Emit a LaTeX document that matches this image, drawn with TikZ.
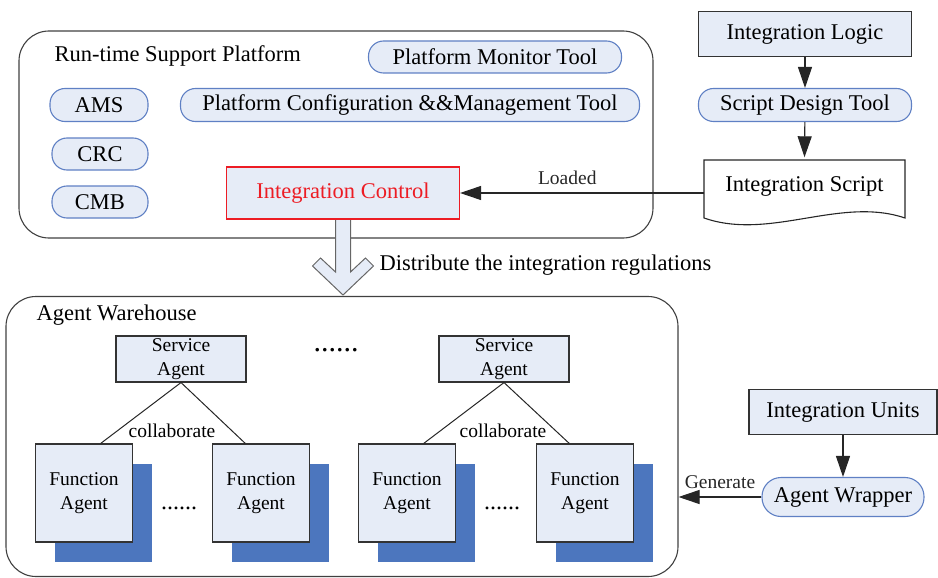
\documentclass[tikz,border=0pt]{standalone}
\usepackage{fontspec}
\setmainfont{Liberation Serif}
\usetikzlibrary{arrows.meta,shadows,calc}
\definecolor{boxfill}{RGB}{230,236,247}
\definecolor{pillline}{RGB}{95,128,196}
\definecolor{ctrlred}{RGB}{237,28,36}
\definecolor{agentshade}{RGB}{76,118,190}
\begin{document}
\begin{tikzpicture}[x=1pt,y=-1pt,
    big/.style={font=\fontsize{22.5}{24}\selectfont},
    small/.style={font=\fontsize{19.5}{24}\selectfont},
    frame/.style={draw=black!75,line width=1.1pt,rounded corners=30pt,inner sep=0pt},
    pill/.style={big,draw=pillline,fill=boxfill,line width=1.1pt,rounded corners=15pt,inner sep=0pt},
    box/.style={big,draw=black!80,fill=boxfill,line width=1.1pt,inner sep=0pt},
    service/.style={small,draw=black!80,fill=boxfill,line width=1.1pt,inner sep=0pt,align=center,minimum width=130pt,minimum height=46pt},
    agent/.style={small,draw=black!80,fill=boxfill,line width=1.1pt,inner sep=0pt,align=center,minimum width=97pt,minimum height=98pt,
        drop shadow={shadow xshift=19pt,shadow yshift=-20pt,fill=agentshade,opacity=1}},
    link/.style={line width=1pt,black!85},
    arr/.style={line width=1.1pt,black!85,-{Triangle[length=21pt,width=14pt]}}]
    \useasboundingbox (0,0) rectangle (938,578);
    \node[frame,minimum width=634pt,minimum height=207pt] (platform) at (336,134.5) {};
    \node[frame,minimum width=672pt,minimum height=280pt] (warehouse) at (342,436.5) {};
    \node[big,anchor=west] (runtime) at (51,56) {Run-time Support Platform};
    \node[big,anchor=west] (wtitle) at (33,315) {Agent Warehouse};
    \node[pill,minimum width=253pt,minimum height=32pt] (monitor) at (495,57) {Platform Monitor Tool};
    \node[pill,minimum width=98pt,minimum height=33pt] (ams) at (99,105) {AMS};
    \node[pill,minimum width=96pt,minimum height=32pt] (crc) at (100,154) {CRC};
    \node[pill,minimum width=96pt,minimum height=32pt] (cmb) at (100,202) {CMB};
    \node[pill,minimum width=459pt,minimum height=33pt] (config) at (410,105) {Platform Configuration \&\&Management Tool};
    \draw[draw=black!60,fill=boxfill,line width=1pt] (343,219) ++(-7.5,0) -- ++(0,53) -- ++(-15,-14) -- ++(-8,8) -- ++(30.5,29)
        -- ++(30.5,-29) -- ++(-8,-8) -- ++(-15,14) -- ++(0,-53) -- cycle;
    \node[box,draw=ctrlred,text=ctrlred,minimum width=233pt,minimum height=52pt] (ctrl) at (343,193) {Integration Control};
    \node[big,anchor=west] (distribute) at (376,265) {Distribute the integration regulations};
    \node[box,minimum width=213pt,minimum height=45pt] (logic) at (805,34) {Integration Logic};
    \node[pill,minimum width=213pt,minimum height=33pt] (design) at (805,105) {Script Design Tool};
    \draw[line width=1.1pt,black!85] (704,160) -- (905,160) -- (905,218) .. controls (840,196) and (770,241) .. (704,218) -- cycle;
    \node[big,inner sep=0pt,minimum width=201pt,minimum height=57pt] (script) at (804.5,186) {Integration Script};
    \draw[arr] (logic) -- (design);
    \draw[arr] (design) -- (script.north);
    \draw[arr] (ctrl.east -| script.west) -- node[small,above=4pt,pos=0.56] {Loaded} (ctrl.east);
    \node[service] (service1) at (181,359) {Service\\Agent};
    \node[service] (service2) at (504,359) {Service\\Agent};
    \node[font=\fontsize{30}{30}\selectfont] (dotstop) at (336,350) {......};
    \node[agent] (func1) at (84,493) {Function\\Agent};
    \node[agent] (func2) at (261,493) {Function\\Agent};
    \node[agent] (func3) at (407,493) {Function\\Agent};
    \node[agent] (func4) at (585,493) {Function\\Agent};
    \node[font=\fontsize{24}{24}\selectfont] (dotsleft) at (179,508) {......};
    \node[font=\fontsize{24}{24}\selectfont] (dotsright) at (502,508) {......};
    \draw[link] (service1.south) -- ($(func1.north west)!0.67!(func1.north east)$);
    \draw[link] (service1.south) -- ($(func2.north west)!0.34!(func2.north east)$);
    \draw[link] (service2.south) -- ($(func3.north west)!0.67!(func3.north east)$);
    \draw[link] (service2.south) -- ($(func4.north west)!0.34!(func4.north east)$);
    \node[small] (collab1) at (172,431) {collaborate};
    \node[small] (collab2) at (503,431) {collaborate};
    \node[box,minimum width=188pt,minimum height=45pt] (units) at (843,412) {Integration Units};
    \node[pill,minimum width=162pt,minimum height=39pt,rounded corners=19pt] (wrapper) at (843,497) {Agent Wrapper};
    \draw[arr] (units) -- (wrapper);
    \draw[arr] (wrapper.west) -- node[small,above=4pt] {Generate} (wrapper.west -| warehouse.east);
\end{tikzpicture}
\end{document}
